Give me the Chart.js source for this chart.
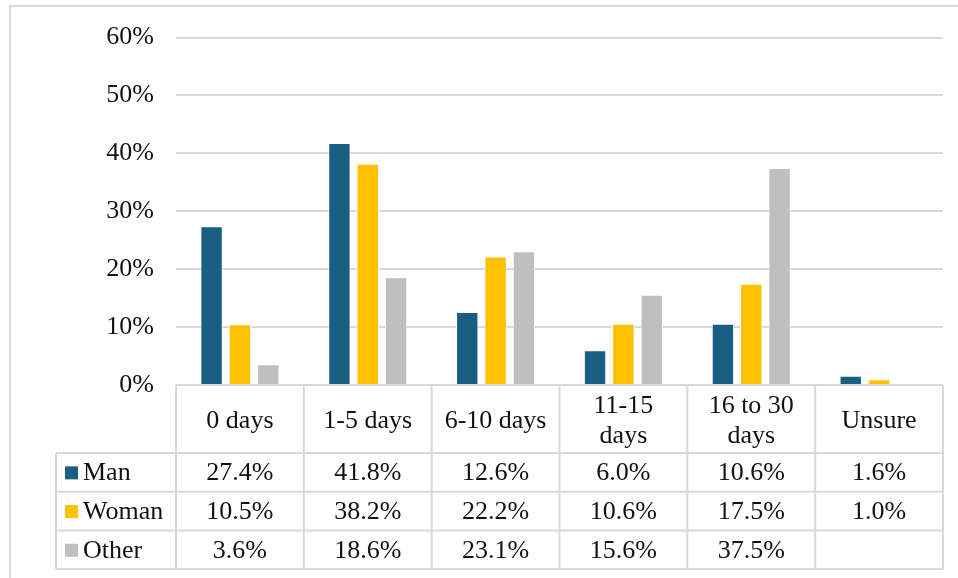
<!DOCTYPE html>
<html>
<head>
<meta charset="utf-8">
<script src="https://cdn.jsdelivr.net/npm/chart.js@4/dist/chart.umd.min.js"></script>
<style>
  body { margin: 0; background: #fff; }
  #wrap { width: 958px; height: 578px; position: relative; }
  .precarga { font-family: "Liberation Serif"; position: absolute; left: -999px; }
</style>
</head>
<body>
<span class="precarga">0 days 27.4%</span>
<div id="wrap"><canvas id="myChart"></canvas></div>
<script>
// days categories (multi-line ones split into arrays)
const categories = ['0 days', '1-5 days', '6-10 days', ['11-15', 'days'], ['16 to 30', 'days'], 'Unsure']
const man = [27.4, 41.8, 12.6, 6.0, 10.6, 1.6]
const woman = [10.5, 38.2, 22.2, 10.6, 17.5, 1.0]
const other = [3.6, 18.6, 23.1, 15.6, 37.5, null]
const seriesNames = ['Man', 'Woman', 'Other']
const colores = ['#195e83', '#ffc000', '#bfbfbf']

const fuente = '"Liberation Serif", serif'
const tamano = 26
const lineaGris = '#d9d9d9'
const texto = '#111'

// white background, outer frame and the data table under the bars
const tablaDatos = {
    id: 'tablaDatos',
    beforeDraw(chart) {
        const ctx = chart.ctx
        ctx.save()
        ctx.fillStyle = '#fff'
        ctx.fillRect(0, 0, chart.width, chart.height)
        ctx.strokeStyle = lineaGris
        ctx.lineWidth = 2
        ctx.strokeRect(10, 6, chart.width + 20, chart.height + 20)
        ctx.restore()
    },
    afterDraw(chart) {
        const ctx = chart.ctx
        const area = chart.chartArea
        const xs = chart.scales.x
        const n = categories.length
        const colW = (area.right - area.left) / n
        const top = area.bottom
        const headerH = 68
        const rowH = 38.7
        const legendLeft = 56
        const rows = chart.data.datasets
        const bottom = top + headerH + rowH * rows.length

        ctx.save()
        ctx.strokeStyle = lineaGris
        ctx.lineWidth = 2
        ctx.beginPath()
        ctx.moveTo(area.left, top)
        ctx.lineTo(area.right, top)
        for (let r = 0; r <= rows.length; r++) {
            const y = top + headerH + r * rowH
            ctx.moveTo(legendLeft, y)
            ctx.lineTo(area.right, y)
        }
        ctx.moveTo(legendLeft, top + headerH)
        ctx.lineTo(legendLeft, bottom)
        for (let i = 0; i <= n; i++) {
            const x = area.left + i * colW
            ctx.moveTo(x, top)
            ctx.lineTo(x, bottom)
        }
        ctx.stroke()

        ctx.fillStyle = texto
        ctx.font = tamano + 'px ' + fuente
        ctx.textAlign = 'center'
        ctx.textBaseline = 'middle'
        // header labels
        for (let i = 0; i < n; i++) {
            const cx = xs.getPixelForValue(i)
            const lineas = Array.isArray(categories[i]) ? categories[i] : [categories[i]]
            const lh = 30
            const cy = top + headerH / 2 - (lineas.length - 1) * lh / 2 + 2
            lineas.forEach((t, k) => ctx.fillText(t, cx, cy + k * lh))
        }
        // value rows with legend keys
        rows.forEach((ds, r) => {
            const cy = top + headerH + r * rowH + rowH / 2 + 1
            ctx.textAlign = 'center'
            ds.data.forEach((v, i) => {
                if (v === null) return
                ctx.fillText(v.toFixed(1) + '%', xs.getPixelForValue(i), cy)
            })
            ctx.fillStyle = ds.backgroundColor
            ctx.fillRect(65, cy - 7, 13, 13)
            ctx.fillStyle = texto
            ctx.textAlign = 'left'
            ctx.fillText(ds.label, 83, cy)
        })
        ctx.restore()
    }
}

function dibujar() {
    const ctx = document.getElementById('myChart')
    new Chart(ctx, {
        type: 'bar',
        data: {
            labels: categories,
            datasets: [man, woman, other].map((valores, i) => ({
                label: seriesNames[i],
                data: valores,
                backgroundColor: colores[i],
                borderColor: '#ffffff',
                borderWidth: 1,
                barPercentage: 0.79,
                categoryPercentage: 0.665
            }))
        },
        options: {
            responsive: true,
            maintainAspectRatio: false,
            animation: false,
            layout: {
                padding: { top: 35, right: 15, bottom: 193, left: 0 }
            },
            plugins: {
                legend: { display: false },
                tooltip: { enabled: false }
            },
            scales: {
                x: {
                    display: false
                },
                y: {
                    min: 0,
                    max: 60,
                    ticks: {
                        stepSize: 10,
                        padding: 22,
                        color: texto,
                        font: { family: fuente, size: tamano },
                        callback: v => v + '%'
                    },
                    grid: { color: lineaGris, lineWidth: 2, drawTicks: false },
                    border: { display: false },
                    afterFit(scale) { scale.width = 176 }
                }
            }
        },
        plugins: [tablaDatos]
    })
}

document.fonts.load(tamano + 'px "Liberation Serif"').then(dibujar, dibujar)
</script>
</body>
</html>
